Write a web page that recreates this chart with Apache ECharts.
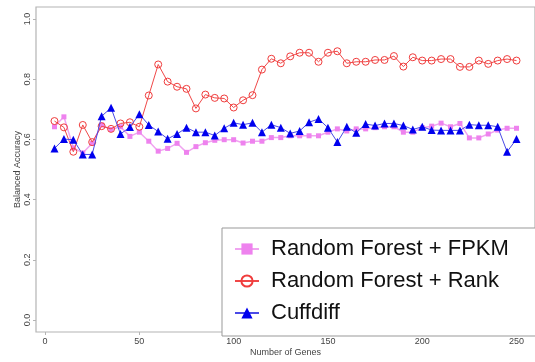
<!DOCTYPE html>
<html>
<head>
<meta charset="utf-8">
<script src="https://cdn.jsdelivr.net/npm/echarts@6/dist/echarts.min.js"></script>
<style>
  html, body { margin: 0; padding: 0; background: #fff; }
  #chart { width: 535px; height: 362px; }
</style>
</head>
<body>
<div id="chart"></div>
<script>
// Number of genes used by each classifier
var genes = [5, 10, 15, 20, 25, 30, 35, 40, 45, 50,
             55, 60, 65, 70, 75, 80, 85, 90, 95, 100,
             105, 110, 115, 120, 125, 130, 135, 140, 145, 150,
             155, 160, 165, 170, 175, 180, 185, 190, 195, 200,
             205, 210, 215, 220, 225, 230, 235, 240, 245, 250];

// Balanced accuracy per method
var rfFpkm = [0.642, 0.675, 0.572, 0.555, 0.587, 0.648, 0.633, 0.642, 0.610, 0.624,
              0.594, 0.561, 0.570, 0.587, 0.557, 0.576, 0.589, 0.597, 0.599, 0.599,
              0.588, 0.594, 0.594, 0.606, 0.606, 0.612, 0.612, 0.612, 0.612, 0.624,
              0.635, 0.628, 0.635, 0.635, 0.639, 0.642, 0.642, 0.624, 0.624, 0.639,
              0.644, 0.654, 0.642, 0.653, 0.605, 0.605, 0.618, 0.631, 0.637, 0.637];

var rfRank = [0.661, 0.640, 0.559, 0.648, 0.591, 0.644, 0.635, 0.653, 0.657, 0.642,
              0.746, 0.849, 0.792, 0.775, 0.768, 0.703, 0.749, 0.738, 0.736, 0.706,
              0.730, 0.747, 0.832, 0.868, 0.853, 0.876, 0.888, 0.888, 0.858, 0.888,
              0.893, 0.853, 0.858, 0.858, 0.864, 0.864, 0.877, 0.842, 0.873, 0.862,
              0.862, 0.867, 0.867, 0.841, 0.841, 0.862, 0.851, 0.862, 0.867, 0.862];

var cuffdiff = [0.570, 0.601, 0.599, 0.550, 0.550, 0.677, 0.705, 0.618, 0.641, 0.684,
                0.648, 0.626, 0.602, 0.618, 0.639, 0.624, 0.624, 0.613, 0.637, 0.655,
                0.649, 0.655, 0.624, 0.649, 0.639, 0.620, 0.628, 0.657, 0.668, 0.639,
                0.591, 0.642, 0.622, 0.651, 0.646, 0.653, 0.653, 0.646, 0.633, 0.642,
                0.631, 0.630, 0.630, 0.630, 0.649, 0.647, 0.647, 0.642, 0.559, 0.601];

var xTicks = [0, 50, 100, 150, 200, 250];
var yTicks = [0, 0.2, 0.4, 0.6, 0.8, 1.0];

var seriesNames = ['Random Forest + FPKM', 'Random Forest + Rank', 'Cuffdiff'];

function pairs(ys) {
  return genes.map(function (g, i) { return [g, ys[i]]; });
}

var axisGray = '#b4b4b4';
var labelColor = '#444';
var font = '"Liberation Sans", Arial, Helvetica, sans-serif';

var chart = echarts.init(document.getElementById('chart'), null, { renderer: 'canvas' });

chart.setOption({
  animation: false,
  backgroundColor: '#fff',
  grid: {
    left: 36, top: 7, width: 501.5, height: 330,
    show: true, borderColor: axisGray, borderWidth: 1.2,
    backgroundColor: 'transparent'
  },
  xAxis: {
    type: 'value',
    min: -4.8, max: 259.8,
    name: 'Number of Genes',
    nameLocation: 'middle',
    nameGap: 16,
    nameMoveOverlap: false,
    nameTextStyle: { fontFamily: font, fontSize: 9, color: labelColor },
    axisLine: { show: false, onZero: false },
    axisTick: { show: true, inside: false, length: 3, customValues: xTicks,
                lineStyle: { color: axisGray, width: 1 } },
    axisLabel: { customValues: xTicks, margin: 5, fontFamily: font, fontSize: 9, color: labelColor },
    splitLine: { show: false }
  },
  yAxis: {
    type: 'value',
    min: -0.04, max: 1.04,
    name: 'Balanced Accuracy',
    nameLocation: 'middle',
    nameGap: 14,
    nameMoveOverlap: false,
    nameTextStyle: { fontFamily: font, fontSize: 9, color: labelColor },
    axisLine: { show: false, onZero: false },
    axisTick: { show: true, inside: false, length: 3, customValues: yTicks,
                lineStyle: { color: axisGray, width: 1 } },
    axisLabel: { customValues: yTicks, rotate: 90, margin: 4, fontFamily: font, fontSize: 9,
                 color: labelColor,
                 formatter: function (v) { return v.toFixed(1); } },
    splitLine: { show: false }
  },
  legend: {
    data: seriesNames,
    orient: 'vertical',
    left: 222, top: 228,
    padding: [10, 60, 12, 12],
    itemGap: 10,
    itemWidth: 24,
    itemHeight: 14,
    backgroundColor: '#fff',
    borderColor: '#999',
    borderWidth: 1,
    borderRadius: 0,
    textStyle: { fontFamily: font, fontSize: 22, color: '#111', lineHeight: 22, padding: [0, 0, 0, 7] }
  },
  series: [
    {
      name: seriesNames[0],
      type: 'line',
      data: pairs(rfFpkm),
      symbol: 'rect',
      symbolSize: 5,
      itemStyle: { color: '#ee82ee' },
      lineStyle: { color: '#f0a4f0', width: 1.5 },
      z: 2
    },
    {
      name: seriesNames[1],
      type: 'line',
      data: pairs(rfRank),
      symbol: 'circle',
      symbolSize: 7,
      itemStyle: { color: 'rgba(0,0,0,0)', borderColor: '#f03c3c', borderWidth: 1 },
      lineStyle: { color: '#f04848', width: 1 },
      z: 3
    },
    {
      name: seriesNames[2],
      type: 'line',
      data: pairs(cuffdiff),
      symbol: 'triangle',
      symbolSize: 8,
      itemStyle: { color: '#0000ee' },
      lineStyle: { color: '#4a4ae6', width: 1 },
      z: 4
    }
  ]
});
</script>
</body>
</html>
